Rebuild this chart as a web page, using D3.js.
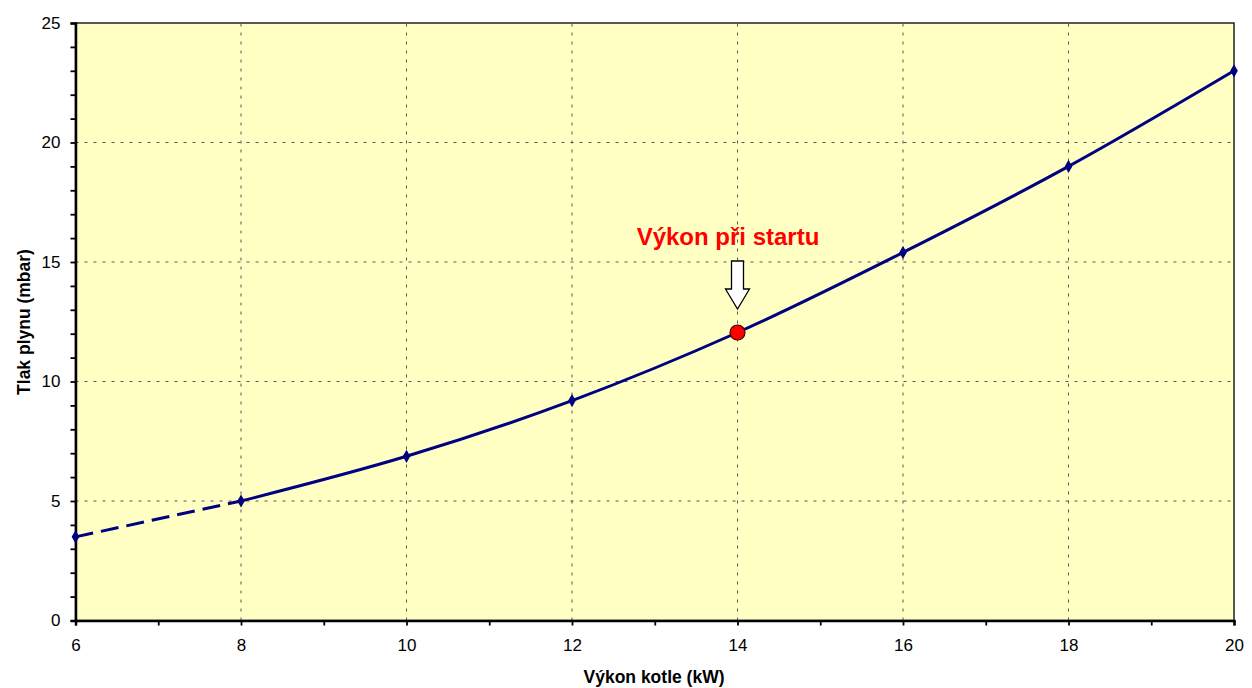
<!DOCTYPE html>
<html>
<head>
<meta charset="utf-8">
<script src="https://cdn.jsdelivr.net/npm/d3@7"></script>
<style>
  body { margin: 0; background: #fff; }
  text { font-family: Arial, "Liberation Sans", sans-serif; }
</style>
</head>
<body>
<div id="chart"></div>
<script>
(function() {
    var width = 1252,
        height = 688;

    // data
    var power = [6, 8, 10, 12, 14, 16, 18, 20];
    var pressure = [3.5, 5.0, 6.87, 9.2, 12.05, 15.4, 19.0, 23.0];
    var xTicks = [6, 8, 10, 12, 14, 16, 18, 20];
    var yTicks = [0, 5, 10, 15, 20, 25];
    var startPower = 14,
        startPressure = 12.05;

    var margin = {left: 75.5, right: 18, top: 23, bottom: 67.5};

    var svg = d3.select("#chart")
        .append("svg")
        .attr("width", width)
        .attr("height", height);

    var x = d3.scaleLinear().domain([6, 20]).range([margin.left, width - margin.right]);
    var y = d3.scaleLinear().domain([0, 25]).range([height - margin.bottom, margin.top]);

    // plot background
    svg.append("rect")
        .attr("x", x(6)).attr("y", y(25))
        .attr("width", x(20) - x(6)).attr("height", y(0) - y(25))
        .attr("fill", "#ffffc4")
        .attr("stroke", "#222")
        .attr("stroke-width", 1.5);

    // dashed grid
    svg.append("g").selectAll("line")
        .data(yTicks.filter(function(d) { return d > 0 && d < 25; }))
        .enter().append("line")
        .attr("x1", x(6)).attr("x2", x(20))
        .attr("y1", function(d) { return y(d); })
        .attr("y2", function(d) { return y(d); })
        .attr("stroke", "#555").attr("stroke-dasharray", "3,6");

    svg.append("g").selectAll("line")
        .data(xTicks.filter(function(d) { return d > 6 && d < 20; }))
        .enter().append("line")
        .attr("y1", y(0)).attr("y2", y(25))
        .attr("x1", function(d) { return x(d); })
        .attr("x2", function(d) { return x(d); })
        .attr("stroke", "#555").attr("stroke-dasharray", "3,6");

    // axes
    var xAxis = d3.axisBottom(x).tickValues(d3.range(6, 21, 1))
        .tickFormat(function(d) { return d % 2 === 0 ? d : ""; })
        .tickSize(5).tickPadding(13);
    var yAxis = d3.axisLeft(y).tickValues(d3.range(0, 26, 1))
        .tickFormat(function(d) { return d % 5 === 0 ? d : ""; })
        .tickSize(5).tickPadding(10);

    var gx = svg.append("g")
        .attr("transform", "translate(0," + y(0) + ")")
        .call(xAxis);
    var gy = svg.append("g")
        .attr("transform", "translate(" + x(6) + ",0)")
        .call(yAxis);

    [gx, gy].forEach(function(g) {
        g.select(".domain").attr("stroke", "#000").attr("stroke-width", 2.5);
        g.selectAll(".tick line").attr("stroke", "#000").attr("stroke-width", 1.8);
        g.selectAll(".tick text").attr("font-size", 17).attr("fill", "#000");
    });

    // axis titles
    svg.append("text")
        .attr("x", 654).attr("y", 683)
        .attr("text-anchor", "middle")
        .attr("font-size", 17.5).attr("font-weight", "bold")
        .text("Výkon kotle (kW)");

    svg.append("text")
        .attr("transform", "translate(30," + 322 + ") rotate(-90)")
        .attr("text-anchor", "middle")
        .attr("font-size", 17.5).attr("font-weight", "bold")
        .text("Tlak plynu (mbar)");

    var points = power.map(function(p, i) { return [p, pressure[i]]; });

    var line = d3.line()
        .x(function(d) { return x(d[0]); })
        .y(function(d) { return y(d[1]); })
        .curve(d3.curveCatmullRom.alpha(0.5));

    // dashed part (6 - 8 kW)
    svg.append("path")
        .datum(points.slice(0, 2))
        .attr("d", line)
        .attr("fill", "none")
        .attr("stroke", "#000080")
        .attr("stroke-width", 3)
        .attr("stroke-dasharray", "18,8");

    svg.append("path")
        .datum(points.slice(1))
        .attr("d", line)
        .attr("fill", "none")
        .attr("stroke", "#000080")
        .attr("stroke-width", 3);

    // diamond markers
    svg.append("g").selectAll("path")
        .data(points)
        .enter().append("path")
        .attr("d", d3.symbol().type(d3.symbolDiamond).size(50))
        .attr("transform", function(d) { return "translate(" + x(d[0]) + "," + y(d[1]) + ")"; })
        .attr("fill", "#000080");

    // start point marker
    svg.append("circle")
        .attr("cx", x(startPower)).attr("cy", y(startPressure))
        .attr("r", 7.5)
        .attr("fill", "#ff0000")
        .attr("stroke", "#400000")
        .attr("stroke-width", 1.2);

    // block arrow
    var ax = x(startPower);
    var arrow = [
        [ax - 6, 261], [ax + 6, 261], [ax + 6, 289], [ax + 12, 289],
        [ax, 309], [ax - 12, 289], [ax - 6, 289]
    ];
    svg.append("path")
        .attr("d", d3.line()(arrow) + "Z")
        .attr("fill", "#fff")
        .attr("stroke", "#000")
        .attr("stroke-width", 1.3);

    svg.append("text")
        .attr("x", 728).attr("y", 245)
        .attr("text-anchor", "middle")
        .attr("font-size", 24).attr("font-weight", "bold")
        .attr("fill", "#ff0000")
        .text("Výkon při startu");
})();
</script>
</body>
</html>
